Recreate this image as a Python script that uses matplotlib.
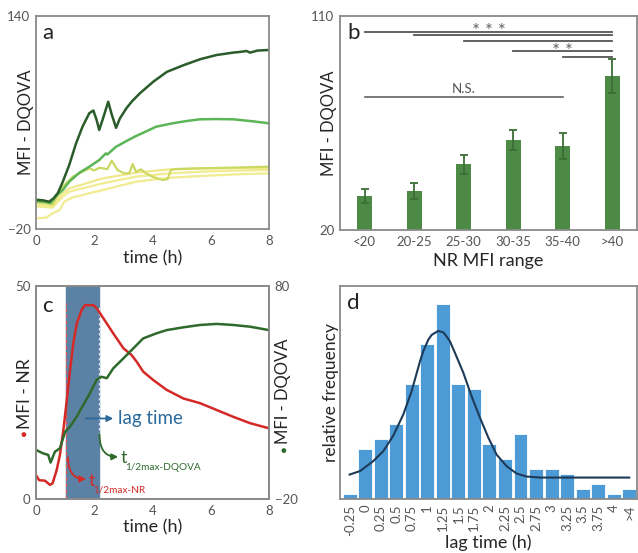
import numpy as np
import matplotlib
matplotlib.use("Agg")
import matplotlib.pyplot as plt

plt.rcParams['font.family'] = ['Lato', 'DejaVu Sans']

# ---------------- Panel a data ----------------
a_dark_t = [0, 0.25, 0.45, 0.6, 0.75, 0.92, 1.14, 1.37, 1.6, 1.83, 1.97, 2.08, 2.17, 2.3, 2.48, 2.6, 2.75, 2.88, 3.1, 3.3, 3.57, 4.03, 4.49, 5.06, 5.63, 6.2, 6.77, 7.0, 7.23, 7.35, 7.6, 8.0]
a_dark_v = [2, 1.5, 0.5, 3, 7, 15.5, 28, 44, 57, 67, 69, 62, 54.4, 63, 75.6, 66, 56, 63, 70.6, 76, 82, 90.7, 98, 103, 107.5, 110.7, 112.5, 113, 113.7, 112.5, 114, 114.5]

a_mid_t = [0, 0.3, 0.5, 0.69, 0.92, 1.14, 1.49, 1.83, 2.17, 2.4, 2.45, 2.75, 3.1, 3.43, 3.8, 4.12, 4.69, 5.2, 5.63, 6.2, 6.77, 7.4, 8.0]
a_mid_v = [1, 0.5, -0.5, 4.8, 9.3, 15.5, 22.3, 26.8, 31.8, 36.8, 36, 41.8, 46, 49.8, 53.5, 56.8, 59.4, 61.2, 62.4, 62.6, 62.4, 61, 59.4]

a_noisy_t = [0, 0.3, 0.57, 0.92, 1.26, 1.6, 1.83, 2.0, 2.17, 2.45, 2.6, 2.8, 3.03, 3.2, 3.32, 3.43, 3.6, 3.78, 4.0, 4.35, 4.52, 4.63, 4.75, 5.63, 6.5, 8.0]
a_noisy_v = [0, -0.5, -1.5, 11.8, 19.3, 23, 25.6, 24, 26, 25, 31.3, 24.3, 21.8, 21.8, 28.8, 23, 24.8, 21.8, 19.3, 16.8, 17.5, 24.3, 25, 25.6, 26, 26.8]

a_y1_t = [0, 0.3, 0.57, 0.92, 1.14, 2.29, 3.43, 4.58, 5.63, 6.8, 8.0]
a_y1_v = [-1.5, -2, -3, 6.8, 10.5, 18, 22.3, 24.8, 25.4, 25.6, 25.6]
a_y2_t = [0, 0.3, 0.57, 0.92, 1.14, 2.29, 3.43, 4.58, 5.63, 6.8, 8.0]
a_y2_v = [-3, -3.5, -4, 4.3, 8, 14.3, 19.3, 21.8, 23, 23.8, 24.3]
a_y3_t = [0, 0.35, 0.57, 0.8, 0.97, 1.26, 2.29, 3.43, 4.58, 5.63, 6.8, 8.0]
a_y3_v = [-12, -11.5, -8.2, -6, 0.5, 3.8, 9.3, 15.5, 18.5, 19.8, 21, 21.8]

# ---------------- Panel b data ----------------
b_categories = ['<20', '20-25', '25-30', '30-35', '35-40', '>40']
b_means = [34.3, 36.5, 47.6, 57.7, 55.2, 84.8]
b_errors = [2.8, 3.3, 3.9, 4.2, 5.4, 7.0]
b_sig_starts = [0, 1, 2, 3, 4]
b_sig_levels = [103.4, 101.8, 99.6, 95.1, 92.9]

# ---------------- Panel c data ----------------
c_nr_t = [0, 0.11, 0.31, 0.48, 0.57, 0.71, 0.82, 0.94, 1.05, 1.17, 1.28, 1.4, 1.57, 1.68, 1.97, 2.08, 2.2, 2.43, 2.65, 3.0, 3.28, 3.46, 3.68, 4.03, 4.49, 5.06, 5.63, 6.2, 6.77, 7.35, 8.0]
c_nr_v = [5.6, 4.4, 4.3, 3.3, 3.7, 6.8, 10.3, 16.2, 22.8, 30.3, 36.5, 41.2, 44.4, 45.5, 45.5, 44.8, 43.6, 41.2, 38.9, 35.4, 33.8, 32.2, 29.9, 27.9, 25.6, 23.6, 22.5, 20.9, 19.3, 17.8, 16.6]
c_dq_t = [0, 0.25, 0.42, 0.5, 0.65, 0.82, 1.0, 1.17, 1.4, 1.62, 1.85, 2.08, 2.25, 2.43, 2.65, 3.0, 3.34, 3.68, 4.14, 4.49, 5.06, 5.63, 6.2, 6.77, 7.35, 8.0]
c_dq_v = [3.0, 1.4, 0.7, -2.9, 2.2, 3.8, 11.6, 14, 18.7, 24.1, 29.6, 35.9, 37.4, 36.7, 41.3, 46, 50.7, 55.4, 57.8, 59.3, 60.6, 61.7, 62.2, 61.7, 60.9, 59.3]
c_t_half_nr = 1.03
c_t_half_dq = 2.17

# ---------------- Panel d data ----------------
d_bins = ['-0.25', '0', '0.25', '0.5', '0.75', '1', '1.25', '1.5', '1.75', '2',
          '2.25', '2.5', '2.75', '3', '3.25', '3.5', '3.75', '4', '>4']
d_counts = [1, 10, 12, 15, 23, 31, 39, 23, 22, 11, 8, 13, 6, 6, 5, 2, 3, 1, 2]
d_fit_x = [0, 0.67, 1.52, 2.17, 2.81, 3.45, 3.99, 4.53, 4.74, 5.06, 5.28, 5.71, 6.03, 6.24, 6.46, 6.78, 7.32, 7.85, 8.39, 8.93, 9.46, 10.1, 10.75, 11.39, 12.25, 14.4, 18.0]
d_fit_y = [4.9, 5.6, 7.6, 9.6, 12.7, 16.9, 21.6, 27.6, 29.6, 31.9, 32.9, 33.7, 33.4, 32.6, 31.6, 29.3, 25.3, 20.6, 16.3, 12.3, 8.9, 6.6, 5.1, 4.5, 4.3, 4.3, 4.3]

# ---------------- Figure ----------------
W, H = 638, 553
fig = plt.figure(figsize=(W / 100, H / 100), dpi=100)

def box(l, t, r, b):
    return [l / W, 1 - b / H, (r - l) / W, (b - t) / H]

ax_a = fig.add_axes(box(36, 16, 269, 229))
ax_b = fig.add_axes(box(340, 16, 637, 230))
ax_c = fig.add_axes(box(36, 286, 269, 499))
ax_d = fig.add_axes(box(340, 286, 637, 499))

SPINE = '#8a8a8a'
TICKC = '#555555'
LABC = '#262626'

def style(ax):
    for s in ax.spines.values():
        s.set_color(SPINE)
        s.set_linewidth(1.3)
    ax.tick_params(length=0, labelcolor=TICKC, labelsize=9.5, pad=4)

# Panel a
style(ax_a)
ax_a.plot(a_y3_t, a_y3_v, color='#f2ec90', lw=1.6)
ax_a.plot(a_y2_t, a_y2_v, color='#f2ec90', lw=1.6)
ax_a.plot(a_y1_t, a_y1_v, color='#efe98a', lw=1.6)
ax_a.plot(a_noisy_t, a_noisy_v, color='#cbd862', lw=1.6)
ax_a.plot(a_mid_t, a_mid_v, color='#5cb557', lw=1.8)
ax_a.plot(a_dark_t, a_dark_v, color='#2a5c2a', lw=1.8)
ax_a.set_xlim(0, 8)
ax_a.set_ylim(-20, 140)
ax_a.set_xticks([0, 2, 4, 6, 8])
ax_a.set_yticks([-20, 140])
ax_a.set_xlabel('time (h)', fontsize=13, color=LABC, va='center')
ax_a.xaxis.set_label_coords(0.5, -0.136)
ax_a.set_ylabel('MFI - DQOVA', fontsize=12, color=LABC, va='center')
ax_a.yaxis.set_label_coords(-0.044, 0.5)
ax_a.text(0.025, 0.965, 'a', transform=ax_a.transAxes, fontsize=16, va='top', ha='left', color='#222222')

# Panel b
style(ax_b)
xb = np.arange(len(b_categories))
ax_b.bar(xb, b_means, width=0.3, color='#4c8a45', zorder=2)
ax_b.errorbar(xb, b_means, yerr=b_errors, fmt='none', ecolor='#3b6e35', elinewidth=1.3, capsize=3, capthick=1.3, zorder=3)
for s, lev in zip(b_sig_starts, b_sig_levels):
    ax_b.plot([xb[s], xb[-1]], [lev, lev], color='#555555', lw=1.3)
ax_b.plot([xb[0], xb[4]], [76.1, 76.1], color='#555555', lw=1.1)
ax_b.text(2.0, 76.6, 'N.S.', ha='center', va='bottom', fontsize=9.5, color='#555555')
ax_b.text(2.5, 101.0, '* * *', ha='center', va='baseline', fontsize=13.5, color='#666666')
ax_b.text(4.0, 92.7, '* *', ha='center', va='baseline', fontsize=13.5, color='#666666')
ax_b.set_xlim(-0.5, 5.5)
ax_b.set_ylim(20, 110)
ax_b.set_xticks(xb)
ax_b.set_xticklabels(b_categories)
ax_b.set_yticks([20, 110])
ax_b.set_xlabel('NR MFI range', fontsize=13, color=LABC, va='center')
ax_b.xaxis.set_label_coords(0.5, -0.143)
ax_b.set_ylabel('MFI - DQOVA', fontsize=12, color=LABC, va='center')
ax_b.yaxis.set_label_coords(-0.038, 0.5)
ax_b.text(0.025, 0.968, 'b', transform=ax_b.transAxes, fontsize=16, va='top', ha='left', color='#222222')

# Panel c
style(ax_c)
ax_c2 = ax_c.twinx()
style(ax_c2)
ax_c.axvspan(c_t_half_nr, c_t_half_dq, color='#5b81a5', zorder=0)
ax_c.plot([c_t_half_nr, c_t_half_nr], [0, 45.9], color='#e05a5a', lw=0.9, ls=(0, (3, 2)), zorder=1)
ax_c.plot([c_t_half_dq, c_t_half_dq], [15, 45], color='#dde6ee', lw=0.9, ls=(0, (2, 2)), zorder=1)
ax_c.plot(c_nr_t, c_nr_v, color='#d42a27', lw=1.8, zorder=3)
ax_c2.plot(c_dq_t, c_dq_v, color='#2e6a2c', lw=1.8)
ax_c.set_xlim(0, 8)
ax_c.set_ylim(0, 50)
ax_c2.set_ylim(-20, 80)
ax_c.set_xticks([0, 2, 4, 6, 8])
ax_c.set_yticks([0, 50])
ax_c2.set_yticks([-20, 80])
ax_c.set_xlabel('time (h)', fontsize=13, color=LABC, va='center')
ax_c.xaxis.set_label_coords(0.5, -0.134)
ax_c.set_ylabel('MFI - NR', fontsize=12.5, color=LABC, va='center')
ax_c.yaxis.set_label_coords(-0.048, 0.493)
ax_c2.set_ylabel('MFI - DQOVA', fontsize=12, color=LABC, va='center', rotation=90)
ax_c2.yaxis.set_label_coords(1.059, 0.507)
ax_c.text(-0.056, 0.30, '●', transform=ax_c.transAxes, fontsize=7, color='#d42a27', ha='center', va='center')
ax_c.text(1.06, 0.222, '●', transform=ax_c.transAxes, fontsize=7, color='#2e6a2c', ha='center', va='center')
ax_c.text(0.025, 0.955, 'c', transform=ax_c.transAxes, fontsize=16, va='top', ha='left', color='#222222')

BLUE = '#2b6a9b'
ax_c2.set_zorder(ax_c.get_zorder() + 1)
ax_c2.patch.set_visible(False)

def v2(v):
    return v / 50 * 100 - 20

ax_c2.annotate('', xy=(2.75, v2(18.9)), xytext=(1.62, v2(18.9)),
               arrowprops=dict(arrowstyle='-|>', color=BLUE, lw=1.3, mutation_scale=9))
ax_c2.text(2.83, v2(18.9), 'lag time', color=BLUE, fontsize=13.5, va='center', ha='left')

# red annotation
ax_c2.annotate('', xy=(1.72, v2(4.7)), xytext=(1.10, v2(9.8)),
               arrowprops=dict(arrowstyle='-|>', color='#d42a27', lw=1.3, mutation_scale=9,
                               connectionstyle='angle3,angleA=-90,angleB=0', shrinkA=0, shrinkB=0))
ax_c2.text(1.80, v2(3.05), 't', color='#d42a27', fontsize=13, ha='left', va='baseline')
ax_c2.text(1.95, v2(1.55), '1/2max-NR', color='#d42a27', fontsize=7.2, ha='left', va='baseline')
# green annotation
ax_c2.annotate('', xy=(2.82, v2(9.9)), xytext=(2.18, v2(15.2)),
               arrowprops=dict(arrowstyle='-|>', color='#2e6a2c', lw=1.3, mutation_scale=9,
                               connectionstyle='angle3,angleA=-90,angleB=0', shrinkA=0, shrinkB=0))
ax_c2.text(2.91, v2(8.45), 't', color='#2e6a2c', fontsize=13, ha='left', va='baseline')
ax_c2.text(3.06, v2(6.9), '1/2max-DQOVA', color='#2e6a2c', fontsize=7.2, ha='left', va='baseline')

# Panel d
style(ax_d)
xd = np.arange(len(d_bins))
ax_d.bar(xd, d_counts, width=0.9, color='#4d9bd6', edgecolor='white', linewidth=0.6, zorder=2)
ax_d.plot(d_fit_x, d_fit_y, color='#1d3a58', lw=1.5, zorder=3)
ax_d.set_xlim(-0.62, 18.5)
ax_d.set_ylim(0, 42.7)
ax_d.set_xticks(xd)
ax_d.set_xticklabels(d_bins, rotation=90)
ax_d.set_yticks([])
ax_d.set_xlabel('lag time (h)', fontsize=13, color=LABC, va='center')
ax_d.xaxis.set_label_coords(0.5, -0.204)
ax_d.set_ylabel('relative frequency', fontsize=12.5, color=LABC, va='center')
ax_d.yaxis.set_label_coords(-0.030, 0.5)
ax_d.text(0.025, 0.965, 'd', transform=ax_d.transAxes, fontsize=16, va='top', ha='left', color='#222222')

fig.savefig('out.png', dpi=100)
